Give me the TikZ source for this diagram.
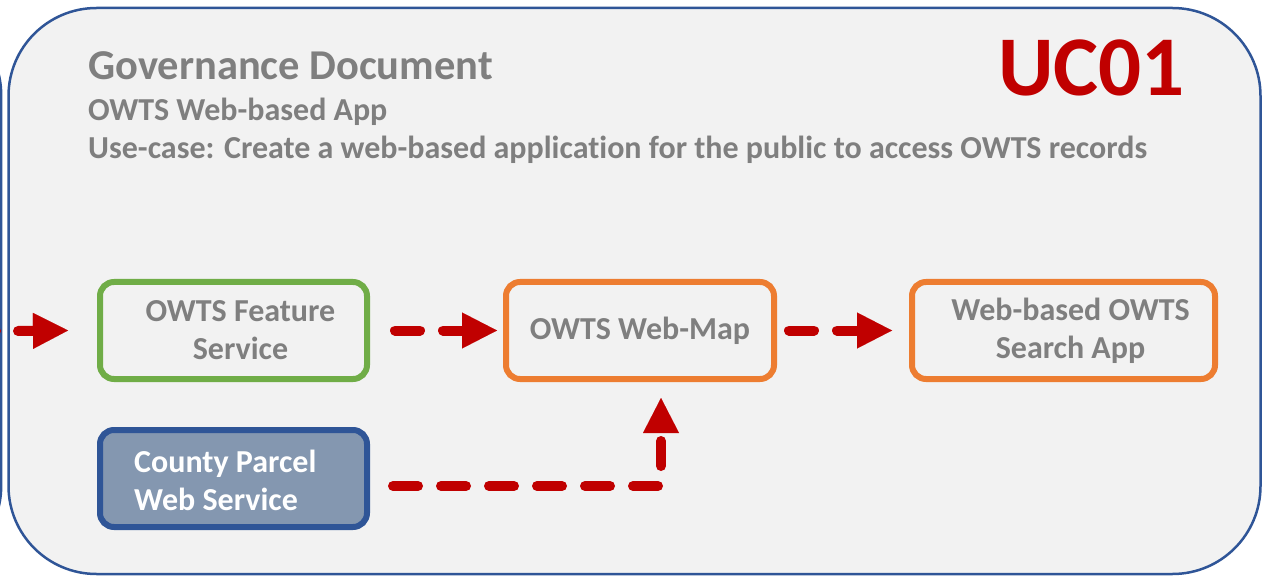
\documentclass[tikz,border=0pt]{standalone}
\usepackage{fontspec}
\setmainfont{Carlito}[Ligatures=NoCommon]
\usetikzlibrary{arrows.meta}
\definecolor{frameblue}{HTML}{2F5597}
\definecolor{bgray}{HTML}{F2F2F2}
\definecolor{tgray}{HTML}{7F7F7F}
\definecolor{dred}{HTML}{C00000}
\definecolor{gbox}{HTML}{70AD47}
\definecolor{obox}{HTML}{ED7D31}
\definecolor{pfill}{HTML}{8497B0}
\begin{document}
\begin{tikzpicture}[x=1pt,y=-1pt,
  box/.style={draw, line width=6pt, rounded corners=14pt, minimum width=#1,
    minimum height=97pt, inner sep=0pt, fill=bgray},
  boxtext/.style={font=\fontsize{32}{38}\selectfont\bfseries, text=tgray, align=center, inner sep=0pt},
  conn/.style={draw=dred, line width=10pt, line cap=round, dash pattern=on 25pt off 23pt,
    -{Triangle[length=35pt,width=36pt,line width=0.01pt]}},
  solidconn/.style={draw=dred, line width=10pt, line cap=round,
    -{Triangle[length=35pt,width=36pt,line width=0.01pt]}},
  frame/.style={draw=frameblue, line width=2.5pt, rounded corners=88pt}]
\useasboundingbox (0,0) rectangle (1263,577);
% previous (cut-off) frame and its connector end
\draw[frame] (-1300,7) rectangle (1.2,574);
\coordinate (prevA) at (-40,331);
\coordinate (prevB) at (-4,331);
\draw[dred, line width=10pt, line cap=round] (prevA) -- (prevB);
% main frame
\draw[frame, fill=bgray] (8.5,8) rectangle (1260.5,574);
% titles
\node[anchor=base west, inner sep=0pt, text=tgray, font=\fontsize{42.5}{50}\selectfont\bfseries] (title) at (88,80) {Governance Document};
\node[anchor=base west, inner sep=0pt, text=tgray, font=\fontsize{32}{38}\selectfont\bfseries] (sub1) at (88,121) {OWTS Web-based App};
\node[anchor=base west, inner sep=0pt, text=tgray, font=\fontsize{32}{38}\selectfont\bfseries] (sub2) at (88,159) {Use-case: Create a web-based application for the public to access OWTS records};
\node[anchor=base east, inner sep=0pt, text=dred, font=\fontsize{85}{100}\selectfont\bfseries] (uc) at (1185,96) {UC01};
% boxes
\node[box=267pt, draw=gbox, label={[boxtext, xshift=7pt]center:OWTS Feature\\Service}] (g) at (233.5,330.5) {};
\node[box=268pt, draw=obox, label={[boxtext]center:OWTS Web-Map}] (o1) at (640,330.5) {};
\node[box=303pt, draw=obox, label={[boxtext, xshift=7pt]center:Web-based OWTS\\Search App}] (o2) at (1063.5,330.5) {};
\node[box=267pt, draw=frameblue, fill=pfill,
  label={[boxtext, text=white, align=left, anchor=west, xshift=37pt, yshift=-2pt]west:County Parcel\\Web Service}] (p) at (233.5,478.5) {};
% connectors
\coordinate (lin) at (18,331);
\draw[solidconn] (lin) -- ([xshift=-29pt]g.west);
\draw[conn] ([xshift=25pt]g.east) -- ([xshift=-6pt]o1.west);
\draw[conn] ([xshift=12pt]o1.east) -- ([xshift=-17pt]o2.west);
\draw[conn] ([xshift=23pt,yshift=-7.5pt]p.east) -| ([xshift=21pt,yshift=-16pt]o1.south);
\end{tikzpicture}
\end{document}
